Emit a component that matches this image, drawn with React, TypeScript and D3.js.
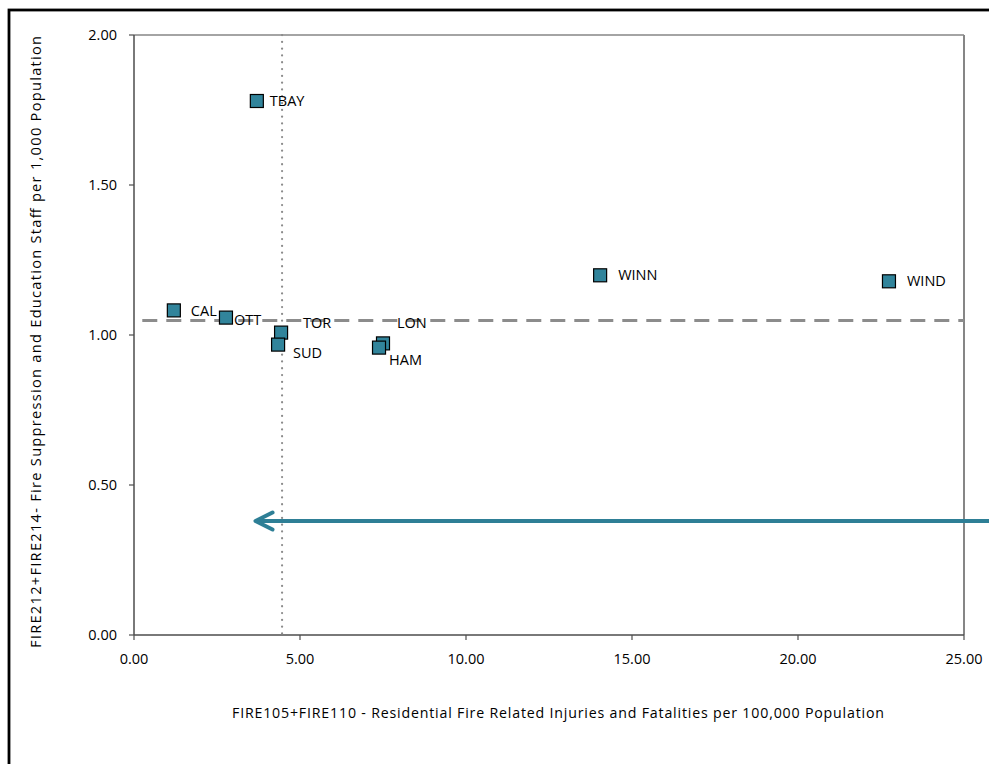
import React from "react";
import * as d3 from "d3";

const cities = ["TBAY", "CAL", "OTT", "TOR", "SUD", "LON", "HAM", "WINN", "WIND"];
const injuries = [3.7, 1.2, 2.77, 4.43, 4.34, 7.5, 7.38, 14.04, 22.74];
const staff = [1.78, 1.082, 1.058, 1.008, 0.968, 0.972, 0.958, 1.199, 1.179];
// label start x / vertical centre relative to the marker centre
const labelOffsets: [number, number][] = [
  [13, 0], [17, 1], [8, 2], [22, -10], [15, 8], [14, -20], [10, 12], [18, 0], [18, 0],
];
const xTicks = [0, 5, 10, 15, 20, 25];
const yTicks = [0, 0.5, 1, 1.5, 2];
const medianX = [4.46];
const medianY = [1.048];
const arrowY = [0.38];
const arrowFromX = [26];
const arrowToX = [3.66];

const xTitle = "FIRE105+FIRE110 - Residential Fire  Related Injuries and Fatalities per 100,000 Population";
const yTitle = "FIRE212+FIRE214- Fire Suppression and Education Staff per 1,000 Population";

export default function App() {
  const W = 989, H = 764;
  const left = 134, right = 964, top = 35, bottom = 635;
  const x = d3.scaleLinear().domain([0, 25]).range([left, right]);
  const y = d3.scaleLinear().domain([0, 2]).range([bottom, top]);
  const font = "'Open Sans', sans-serif";
  const teal = "#31849B";
  const ax = x(arrowToX[0]);
  const ay = y(arrowY[0]);
  return (
    <svg width={W} height={H} style={{ position: "absolute", left: 0, top: 0 }} fontFamily={font}>
      <rect x={0} y={0} width={W} height={H} fill="#fff" />
      <rect x={9} y={10} width={1000} height={800} fill="none" stroke="#000" strokeWidth={2.8} />
      {/* plot border top/right */}
      <line x1={left} x2={right} y1={top} y2={top} stroke="#868686" strokeWidth={1.5} />
      <line x1={right} x2={right} y1={top} y2={bottom} stroke="#868686" strokeWidth={2} />
      {/* axes */}
      <line x1={left} x2={left} y1={top} y2={bottom} stroke="#4d4d4d" strokeWidth={1.5} />
      <line x1={left} x2={right} y1={bottom} y2={bottom} stroke="#4d4d4d" strokeWidth={1.5} />
      {yTicks.map((t) => (
        <g key={"y" + t}>
          <line x1={left - 5} x2={left} y1={y(t)} y2={y(t)} stroke="#4d4d4d" strokeWidth={1.2} />
          <text x={117} y={y(t)} dy="0.35em" textAnchor="end" fontSize={14.5} fill="#000">
            {t.toFixed(2)}
          </text>
        </g>
      ))}
      {xTicks.map((t) => (
        <g key={"x" + t}>
          <line x1={x(t)} x2={x(t)} y1={bottom} y2={bottom + 5} stroke="#4d4d4d" strokeWidth={1.2} />
          <text x={x(t)} y={bottom + 24} dy="0.35em" textAnchor="middle" fontSize={14.5} fill="#000">
            {t.toFixed(2)}
          </text>
        </g>
      ))}
      {/* reference lines */}
      <line x1={x(medianX[0])} x2={x(medianX[0])} y1={top} y2={bottom} stroke="#8c8c8c" strokeWidth={2.2}
        strokeDasharray="0.1 6.7" strokeLinecap="round" />
      <line x1={x(0.25)} x2={right} y1={y(medianY[0])} y2={y(medianY[0])} stroke="#8c8c8c" strokeWidth={3}
        strokeDasharray="15 9" />
      {/* arrow */}
      <line x1={x(arrowFromX[0])} x2={ax + 2} y1={ay} y2={ay} stroke="#2e7f96" strokeWidth={4} />
      <polyline points={`${ax + 17},${ay - 8.5} ${ax},${ay} ${ax + 17},${ay + 8.5}`} fill="none"
        stroke="#2e7f96" strokeWidth={4} strokeLinecap="round" strokeLinejoin="round" />
      {/* points */}
      {cities.map((c, i) => (
        <g key={c}>
          <rect x={x(injuries[i]) - 6.5} y={y(staff[i]) - 6.5} width={13} height={13} fill={teal} stroke="#000" strokeWidth={1.2} />
          <text x={x(injuries[i]) + labelOffsets[i][0]} y={y(staff[i]) + labelOffsets[i][1]} dy="0.35em" fontSize={14.5} fill="#000">
            {c}
          </text>
        </g>
      ))}
      {/* titles */}
      <text x={558} y={713} dy="0.35em" textAnchor="middle" fontSize={14.2} fill="#000"
        textLength={652} lengthAdjust="spacing">{xTitle}</text>
      <text transform={`translate(36, 342) rotate(-90)`} dy="0.35em" textAnchor="middle" fontSize={14.6} fill="#000"
        textLength={612} lengthAdjust="spacing">{yTitle}</text>
    </svg>
  );
}
